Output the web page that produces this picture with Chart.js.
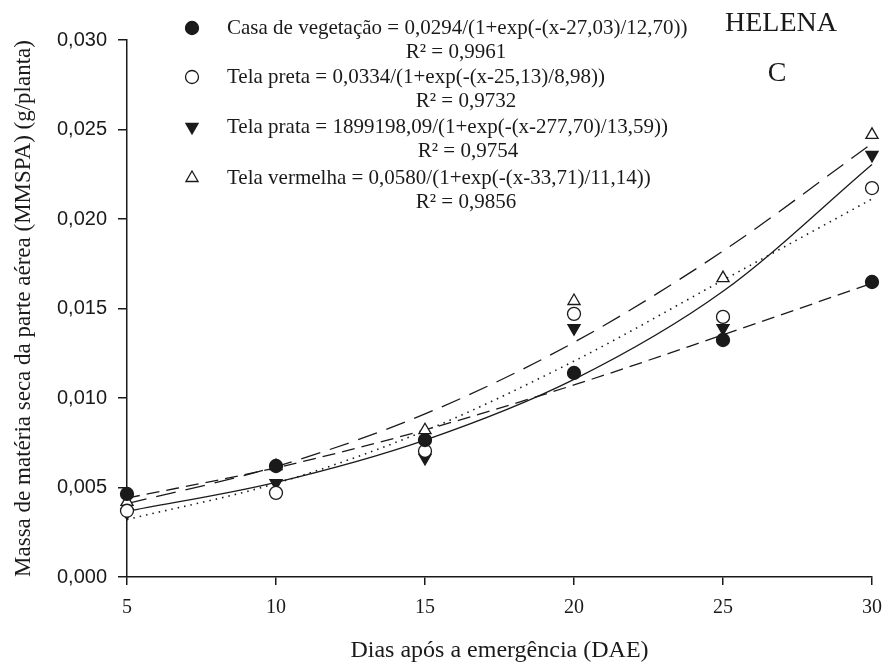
<!DOCTYPE html>
<html>
<head>
<meta charset="utf-8">
<script src="https://cdn.jsdelivr.net/npm/chart.js@4.4.1/dist/chart.umd.min.js"></script>
<style>
  html, body { margin: 0; padding: 0; background: #fff; }
</style>
</head>
<body>
<canvas id="chart" width="883" height="666"></canvas>
<script>
// days after emergence
const days = [5, 10, 15, 20, 25, 30];

// observed means (g/planta)
const casaPts     = [0.00464, 0.0062, 0.00765, 0.0114, 0.01324, 0.01648];
const pretaPts    = [0.0037, 0.0047, 0.00704, 0.0147, 0.01453, 0.02173];
const prataPts    = [0.0036, 0.00525, 0.00665, 0.0139, 0.0139, 0.02358];
const vermelhaPts = [0.0042, 0.0062, 0.0082, 0.01542, 0.0167, 0.0247];

// fitted curves at each day
const casaFit     = [0.00441, 0.00610, 0.00822, 0.01073, 0.01353, 0.01641];
const pretaFit    = [0.00321, 0.00523, 0.00817, 0.01206, 0.01658, 0.02112];
const prataFit    = [0.00367, 0.00529, 0.00765, 0.01104, 0.01596, 0.02305];
const vermelhaFit = [0.00410, 0.00617, 0.00911, 0.01311, 0.01821, 0.02422];

const equations = [
  'Casa de vegetação = 0,0294/(1+exp(-(x-27,03)/12,70))',
  'Tela preta = 0,0334/(1+exp(-(x-25,13)/8,98))',
  'Tela prata = 1899198,09/(1+exp(-(x-277,70)/13,59))',
  'Tela vermelha = 0,0580/(1+exp(-(x-33,71)/11,14))'
];
const r2Labels = ['R² = 0,9961', 'R² = 0,9732', 'R² = 0,9754', 'R² = 0,9856'];

const yTicks = [0, 0.005, 0.010, 0.015, 0.020, 0.025, 0.030];
const xTicks = [5, 10, 15, 20, 25, 30];

const INK = '#1a1a1a';
const SERIF = '"Liberation Serif", "Times New Roman", serif';
const SANS = '"Liberation Sans", Arial, sans-serif';

function pts(arr) {
  return days.map((d, i) => ({ x: d, y: arr[i] }));
}

// marker look per series: [style, rotation, fill]
const markers = [
  ['circle', 0, INK],
  ['circle', 0, '#fff'],
  ['triangle', 180, INK],
  ['triangle', 0, '#fff']
];
const dashes = [[13, 7], [1.5, 5], [], [20, 10]];

const pointSets = [casaPts, pretaPts, prataPts, vermelhaPts];
const fitSets = [casaFit, pretaFit, prataFit, vermelhaFit];

const datasets = [];
pointSets.forEach((p, i) => {
  datasets.push({
    type: 'scatter',
    data: pts(p),
    pointStyle: markers[i][0],
    rotation: markers[i][1],
    pointRadius: markers[i][0] === 'triangle' ? 7 : 6.5,
    pointBackgroundColor: markers[i][2],
    pointBorderColor: INK,
    pointBorderWidth: 1.3,
    showLine: false,
    clip: false,
    order: 0
  });
});
fitSets.forEach((f, i) => {
  datasets.push({
    type: 'line',
    data: pts(f),
    borderColor: INK,
    borderWidth: i === 1 ? 1.6 : 1.3,
    borderDash: dashes[i],
    pointRadius: 0,
    fill: false,
    clip: false,
    cubicInterpolationMode: 'monotone',
    order: 1
  });
});

// legend with equations, drawn by hand
const eqLegend = {
  id: 'eqLegend',
  afterDraw(chart) {
    const ctx = chart.ctx;
    const markerX = 192, textX = 227;
    const rowY = [28, 77, 127, 178];
    const r2Center = [456, 466, 468, 466];
    ctx.save();
    ctx.font = '21px ' + SERIF;
    ctx.textBaseline = 'middle';
    equations.forEach((eq, i) => {
      const y = rowY[i];
      ctx.fillStyle = markers[i][2];
      ctx.strokeStyle = INK;
      ctx.lineWidth = 1.3;
      Chart.helpers.drawPoint(ctx, {
        pointStyle: markers[i][0], rotation: markers[i][1],
        radius: markers[i][0] === 'triangle' ? 7 : 6.5, borderWidth: 1.3
      }, markerX, y);
      ctx.fillStyle = INK;
      ctx.textAlign = 'left';
      ctx.fillText(eq, textX, y);
      ctx.textAlign = 'center';
      ctx.fillText(r2Labels[i], r2Center[i], y + 24);
    });
    ctx.font = '28px ' + SERIF;
    ctx.textAlign = 'center';
    ctx.fillText('HELENA', 781, 24);
    ctx.fillText('C', 777, 74);
    ctx.restore();
  }
};

new Chart(document.getElementById('chart'), {
  data: { datasets: datasets },
  plugins: [eqLegend],
  options: {
    responsive: false,
    devicePixelRatio: 1,
    animation: false,
    layout: { autoPadding: false, padding: { top: 40, right: 11, left: 0, bottom: 0 } },
    plugins: { legend: { display: false }, tooltip: { enabled: false } },
    scales: {
      x: {
        type: 'linear',
        min: 5, max: 30,
        afterFit: s => { s.height = 89; s.paddingLeft = 0; s.paddingRight = 0; },
        afterBuildTicks: s => { s.ticks = xTicks.map(v => ({ value: v })); },
        border: { display: true, color: INK, width: 1.5 },
        grid: { drawOnChartArea: false, drawTicks: true, tickLength: 8, color: INK, lineWidth: 1.5 },
        ticks: { color: INK, font: { family: SERIF, size: 20 }, padding: 11, maxRotation: 0 },
        title: {
          display: true,
          text: 'Dias após a emergência (DAE)',
          color: INK,
          font: { family: SERIF, size: 24 },
          padding: { top: 0, bottom: 1 }
        }
      },
      y: {
        type: 'linear',
        min: 0, max: 0.03,
        afterFit: s => { s.width = 127; s.paddingTop = 0; s.paddingBottom = 0; },
        afterBuildTicks: s => { s.ticks = yTicks.map(v => ({ value: v })); },
        border: { display: true, color: INK, width: 1.5 },
        grid: { drawOnChartArea: false, drawTicks: true, tickLength: 9, color: INK, lineWidth: 1.5 },
        ticks: {
          color: INK,
          font: { family: SANS, size: 20 },
          padding: 11,
          callback: v => v.toFixed(3).replace('.', ',')
        },
        title: {
          display: true,
          text: 'Massa de matéria seca da parte aérea (MMSPA) (g/planta)',
          color: INK,
          font: { family: SERIF, size: 23 },
          padding: { top: 10, bottom: 0 }
        }
      }
    }
  }
});
</script>
</body>
</html>
